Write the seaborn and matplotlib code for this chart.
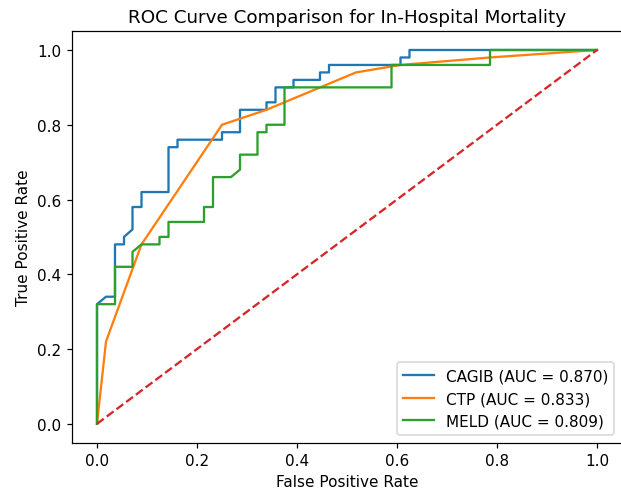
import matplotlib
matplotlib.use("Agg")
import matplotlib.pyplot as plt
import seaborn as sns
import pandas as pd

# ROC points (fpr, tpr)
cagib_fpr = [0, 0, 0.018, 0.036, 0.036, 0.054, 0.054, 0.071, 0.071, 0.089, 0.089,
             0.143, 0.143, 0.161, 0.161, 0.250, 0.250, 0.286, 0.286, 0.339, 0.339,
             0.357, 0.357, 0.393, 0.393, 0.446, 0.446, 0.464, 0.464, 0.607, 0.607,
             0.625, 0.625, 1.0]
cagib_tpr = [0, 0.32, 0.34, 0.34, 0.48, 0.48, 0.50, 0.52, 0.58, 0.58, 0.62,
             0.62, 0.74, 0.74, 0.76, 0.76, 0.78, 0.78, 0.84, 0.84, 0.86,
             0.86, 0.90, 0.90, 0.92, 0.92, 0.94, 0.94, 0.96, 0.96, 0.98,
             0.98, 1.0, 1.0]

ctp_fpr = [0, 0.018, 0.089, 0.250, 0.339, 0.518, 0.607, 0.786, 1.0]
ctp_tpr = [0, 0.22, 0.48, 0.80, 0.84, 0.94, 0.96, 0.98, 1.0]

meld_fpr = [0, 0, 0.036, 0.036, 0.071, 0.071, 0.089, 0.125, 0.125, 0.143, 0.143,
            0.214, 0.214, 0.232, 0.232, 0.268, 0.286, 0.286, 0.321, 0.321, 0.339,
            0.339, 0.375, 0.375, 0.589, 0.589, 0.786, 0.786, 1.0]
meld_tpr = [0, 0.32, 0.32, 0.42, 0.42, 0.46, 0.48, 0.48, 0.50, 0.50, 0.54,
            0.54, 0.58, 0.58, 0.66, 0.66, 0.68, 0.72, 0.72, 0.78, 0.78,
            0.80, 0.80, 0.90, 0.90, 0.96, 0.96, 1.0, 1.0]

models = ["CAGIB", "CTP", "MELD"]
auc_values = [0.870, 0.833, 0.809]
colors = ["tab:blue", "tab:orange", "tab:green"]

curves = {"CAGIB": (cagib_fpr, cagib_tpr),
          "CTP": (ctp_fpr, ctp_tpr),
          "MELD": (meld_fpr, meld_tpr)}

# reference text is ~10% larger than default 100 dpi rendering
DPI = 110
fig = plt.figure(figsize=(621 / DPI, 490 / DPI), dpi=DPI)
ax = fig.add_axes([72 / 621, (490 - 443.5) / 490, 550 / 621, 411.2 / 490])

for name, auc, col in zip(models, auc_values, colors):
    fpr, tpr = curves[name]
    df = pd.DataFrame({"fpr": fpr, "tpr": tpr})
    sns.lineplot(data=df, x="fpr", y="tpr", sort=False, estimator=None,
                 color=col, linewidth=1.5, ax=ax,
                 label=f"{name} (AUC = {auc:.3f})")

diag = pd.DataFrame({"fpr": [0, 1], "tpr": [0, 1]})
sns.lineplot(data=diag, x="fpr", y="tpr", color="tab:red", linestyle="--",
             linewidth=1.5, ax=ax)

ax.set_xlabel("False Positive Rate")
ax.set_ylabel("True Positive Rate")
ax.set_title("ROC Curve Comparison for In-Hospital Mortality")
ax.legend(loc="lower right")

fig.savefig("out.png", dpi=DPI)
